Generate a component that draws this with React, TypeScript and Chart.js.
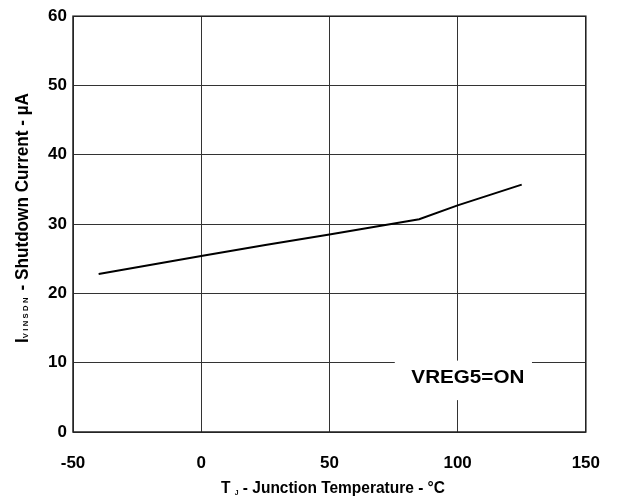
import React, { useEffect, useRef } from "react";
import { Chart, registerables } from "chart.js";

Chart.register(...registerables);

const temperatures: number[] = [-40, 0, 25, 50, 85, 100, 125];
const shutdownCurrent: number[] = [22.8, 25.4, 27.0, 28.5, 30.7, 32.7, 35.7];
const xTicks: number[] = [-50, 0, 50, 100, 150];
const yTicks: number[] = [0, 10, 20, 30, 40, 50, 60];
const annotationText = "VREG5=ON";

const FONT = "'Liberation Sans', Arial, sans-serif";

type Part = { text: string; size: number; dy: number; spacing?: number };

function drawParts(ctx: CanvasRenderingContext2D, parts: Part[], targetWidth: number) {
  let total = 0;
  const widths: number[] = [];
  for (const p of parts) {
    ctx.font = `bold ${p.size}px ${FONT}`;
    let w = 0;
    if (p.spacing) {
      for (const ch of p.text) w += ctx.measureText(ch).width + p.spacing;
    } else {
      w = ctx.measureText(p.text).width;
    }
    widths.push(w);
    total += w;
  }
  const sx = targetWidth / total;
  ctx.save();
  ctx.scale(sx, 1);
  let x = -total / 2;
  parts.forEach((p, i) => {
    ctx.font = `bold ${p.size}px ${FONT}`;
    if (p.spacing) {
      let cx = x;
      for (const ch of p.text) {
        ctx.fillText(ch, cx, p.dy);
        cx += ctx.measureText(ch).width + p.spacing;
      }
    } else {
      ctx.fillText(p.text, x, p.dy);
    }
    x += widths[i];
  });
  ctx.restore();
}

const decorPlugin = {
  id: "decor",
  afterDatasetsDraw(chart: any) {
    const { ctx, chartArea, scales } = chart;
    const xs = scales.x;
    const ys = scales.y;
    const x1 = xs.getPixelForValue(75.5);
    const x2 = xs.getPixelForValue(129);
    const y1 = ys.getPixelForValue(10.3);
    const y2 = ys.getPixelForValue(4.6);
    ctx.save();
    ctx.fillStyle = "#ffffff";
    ctx.fillRect(x1, y1, x2 - x1, y2 - y1);
    ctx.fillStyle = "#000";
    ctx.textAlign = "left";
    ctx.textBaseline = "alphabetic";
    ctx.save();
    ctx.translate(xs.getPixelForValue(104), ys.getPixelForValue(7.0));
    drawParts(ctx, [{ text: annotationText, size: 18, dy: 0 }], 113);
    ctx.restore();

    ctx.strokeStyle = "#222";
    ctx.lineWidth = 1.5;
    ctx.strokeRect(chartArea.left, chartArea.top, chartArea.right - chartArea.left, chartArea.bottom - chartArea.top);

    ctx.save();
    ctx.translate(333, 493);
    drawParts(
      ctx,
      [
        { text: "T ", size: 16, dy: 0 },
        { text: "J", size: 7, dy: 2 },
        { text: " - Junction Temperature - \u00b0C", size: 16, dy: 0 },
      ],
      224
    );
    ctx.restore();

    ctx.save();
    ctx.translate(28, 218);
    ctx.rotate(-Math.PI / 2);
    drawParts(
      ctx,
      [
        { text: "I", size: 18, dy: 0 },
        { text: "VINSDN", size: 8, dy: 0, spacing: 2.5 },
        { text: " - Shutdown Current - \u00b5A", size: 18, dy: 0 },
      ],
      250
    );
    ctx.restore();
    ctx.restore();
  },
};

export default function App() {
  const ref = useRef<HTMLCanvasElement | null>(null);
  useEffect(() => {
    if (!ref.current) return;
    const chart = new Chart(ref.current, {
      type: "line",
      data: {
        datasets: [
          {
            data: temperatures.map((t, i) => ({ x: t, y: shutdownCurrent[i] })),
            borderColor: "#000",
            borderWidth: 2,
            pointRadius: 0,
            tension: 0,
            fill: false,
          },
        ],
      },
      options: {
        animation: false,
        responsive: false,
        devicePixelRatio: 1,
        layout: { padding: { left: 0, right: 35, top: 14, bottom: 0 } },
        plugins: { legend: { display: false }, tooltip: { enabled: false } },
        scales: {
          x: {
            type: "linear",
            min: -50,
            max: 150,
            afterBuildTicks: (s: any) => {
              s.ticks = xTicks.map((v) => ({ value: v }));
            },
            afterFit: (s: any) => {
              s.height = 69;
            },
            grid: { color: "#333", lineWidth: 1, drawTicks: false },
            border: { display: false },
            ticks: {
              color: "#000",
              padding: 21,
              maxRotation: 0,
              font: { family: FONT, weight: "bold", size: 17 },
            },
          },
          y: {
            type: "linear",
            min: 0,
            max: 60,
            afterBuildTicks: (s: any) => {
              s.ticks = yTicks.map((v) => ({ value: v }));
            },
            afterFit: (s: any) => {
              s.width = 73;
            },
            grid: { color: "#333", lineWidth: 1, drawTicks: false },
            border: { display: false },
            ticks: {
              color: "#000",
              padding: 6,
              font: { family: FONT, weight: "bold", size: 17 },
            },
          },
        },
      },
      plugins: [decorPlugin],
    });
    return () => chart.destroy();
  }, []);
  return (
    <div style={{ position: "absolute", left: 0, top: 0, width: 621, height: 501, background: "#fff" }}>
      <canvas ref={ref} width={621} height={501} style={{ width: 621, height: 501 }} />
    </div>
  );
}
